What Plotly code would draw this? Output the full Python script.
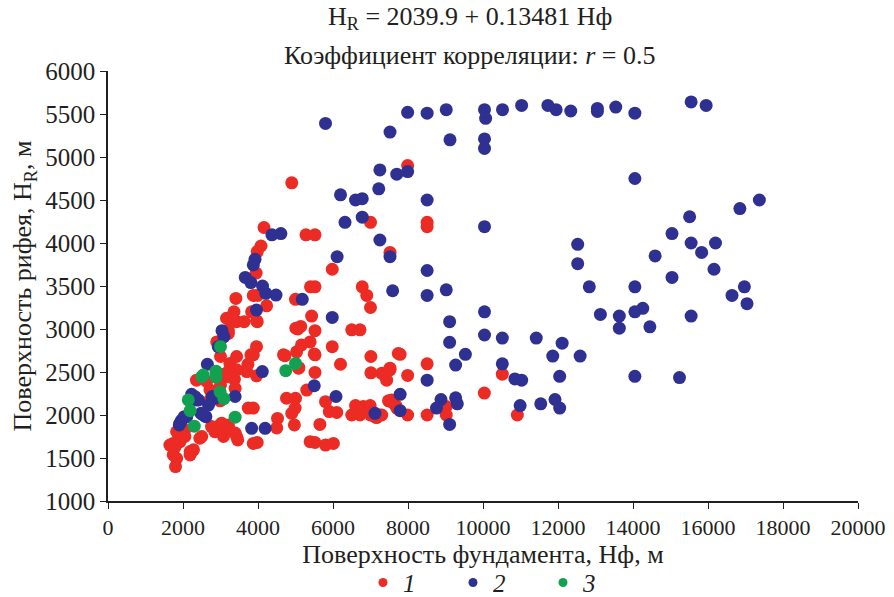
import plotly.graph_objects as go

# Series 1 (red)
s1 = [(7990,4900),(4900,4700),(8510,4240),(8510,4190),(7520,3890),(7000,4240),(5280,4095),(5520,4095),
      (5980,3695),(5400,3490),(5520,3490),(5000,3345),(6780,3490),(6900,3390),(7000,3250),(5430,3150),
      (5060,3000),(5140,3030),(5520,2980),(6500,2990),(6720,2990),
      (4160,4180),(4080,3965),(3980,3900),(3950,3650),(3410,3355),(3875,3390),(3990,3390),(4230,3270),
      (3360,3200),(3830,3200),(3160,3125),(3430,3085),(3630,3085),(3980,3085),(3210,2990),(3080,2910),
      (5010,3010),(3340,3105),(3960,3095),(3210,2950),(2900,2850),(3960,2795),(3000,2680),(3430,2680),
      (3250,2600),(3875,2700),(3730,2590),(3430,2525),(3210,2505),(3080,2475),(3160,2445),(3700,2505),
      (3960,2455),(3370,2415),(3390,2310),(3000,2350),(2630,2390),(2720,2290),(2720,2175),(2990,2165),
      (2360,2405),(3810,2700),
      (2050,1825),(1965,1770),(1875,1710),(1650,1650),(1790,1630),(1920,1690),(1830,1495),(1800,1400),
      (1740,1535),(2190,1535),(2280,1595),(2450,1730),(2760,1865),(2850,1805),(3080,1750),(3030,1805),
      (3210,1885),(3240,1825),(3390,1790),(3460,1710),(3740,2080),(3875,2080),(3875,1670),(3980,1680),
      (4520,1960),(4500,1850),(4760,2195),(5000,2195),(4900,2020),(4990,2080),(4970,1885),(2940,1865),
      (3030,1905),(3430,1750),(2500,1750),(2190,1575),(1740,1670),(2050,1750),(1830,1805),
      (4680,2700),(5080,2545),(5300,2290),(5520,2495),(5520,2700),(5390,2850),(5160,2815),(5030,2735),
      (5980,2795),(5800,2155),(5900,2040),(6100,2030),(5650,1890),(5390,1690),(5520,1680),(5800,1650),
      (6010,1670),(6200,2590),(6500,2000),(6720,2000),(6600,2110),(7010,2680),(7010,2490),(6810,2100),
      (6990,2110),(7080,2000),(7160,1970),(7300,2485),(7430,2405),(7520,2525),(7480,2165),(7680,2105),
      (7740,2715),(4720,2690),(5090,2550),(5500,2710),(7000,2000),(7120,1980),(7250,2000),(7570,2175),
      (7790,2705),(7520,2545),(7990,2460),(8510,2595),(10515,2475),(10035,2255),(7600,2140),
      (7700,2080),(7990,2000),(8510,2000),(9020,2100),(9020,2000),(10915,2000),(7300,2000)]

# Series 2 (blue)
s2 = [(5800,5390),(7520,5290),(7990,5520),(8510,5510),(9020,5550),(10040,5550),(10070,5450),(10520,5550),
      (11030,5600),(11730,5600),(11950,5550),(12340,5535),(13050,5565),(13050,5530),(13540,5580),
      (14050,5510),(15550,5640),(15950,5600),(9120,5200),(10040,5210),(10040,5100),
      (7250,4850),(7700,4800),(7990,4830),(7220,4630),(14050,4750),(8510,4500),(10040,4190),(7250,4035),
      (7520,3840),(12525,3985),(12525,3760),(15040,4110),(14590,3850),(15040,3600),(8510,3680),
      (7590,3445),(8510,3390),(9020,3455),(12835,3490),(14050,3490),(14260,3240),(14050,3200),(10040,3200),
      (17370,4500),(16850,4400),(15510,4305),(15550,4000),(16200,4000),(15830,3890),(16160,3695),
      (16970,3490),(16640,3390),(17040,3295),(15550,3150),(15240,2435),
      (6200,4560),(6600,4500),(6780,4515),(6320,4240),(6780,4300),(6110,3840),(5180,3345),(5980,3135),
      (13130,3170),(13635,3150),(13635,3010),(14450,3025),(9110,3085),(9110,2845),(10040,2930),
      (10515,2895),(11420,2895),(12110,2835),(9530,2705),(9270,2580),(10515,2595),(11860,2685),
      (12590,2685),(8510,2405),(10850,2420),(11030,2405),(12045,2450),(14050,2450),(7790,2240),
      (7790,2050),(8880,2180),(8760,2080),(9270,2200),(9315,2130),(9110,1890),(10990,2110),(11540,2130),
      (11920,2180),(12045,2080),(7120,2020),
      (4370,4095),(4610,4110),(3920,3810),(3875,3745),(3660,3600),(3810,3540),(4120,3500),(4210,3415),
      (4480,3395),(3960,3220),(3040,2980),(3090,2910),(2940,2795),(2650,2590),(4115,2505),(2230,2240),
      (2360,2175),(2780,2215),(2850,2195),(2680,2115),(2480,2020),(2610,1980),(3390,2215),(2035,1980),
      (1965,1940),(1900,1885),(5500,2340),(6080,2215),(3830,1845),(4190,1845),(2320,2213),(2410,2175),
      (2540,2000),(2100,1980),(1920,1905)]

# Series 3 (green)
s3 = [(2500,2445),(2540,2465),(2880,2510),(2880,2440),(2990,2270),(3090,2190),(5000,2600),(4740,2515),
      (2140,2175),(2190,2050),(2300,1870),(3390,1975),(3000,2795)]

x_ticks = list(range(0, 20001, 2000))
y_ticks = list(range(1000, 6001, 500))
series_names = ["1", "2", "3"]
colors = ["#ec2b24", "#2e3192", "#12a150"]

FONT = "Liberation Serif"
INK = "#231f20"
fig = go.Figure()
for name, pts, col in zip(series_names, [s1, s2, s3], colors):
    fig.add_trace(go.Scatter(
        x=[p[0] for p in pts], y=[p[1] for p in pts], mode="markers",
        marker=dict(size=13, color=col, line=dict(width=0)),
        showlegend=False, hoverinfo="skip"))
for name, col in zip(series_names, colors):
    fig.add_trace(go.Scatter(
        x=[None], y=[None], mode="markers", name=f"<i>{name}</i>",
        marker=dict(size=9, color=col)))

fig.update_layout(
    width=894, height=597,
    margin=dict(l=108, r=36, t=71, b=96, autoexpand=False),
    plot_bgcolor="white", paper_bgcolor="white",
    font=dict(family=FONT, color=INK, size=22),
    legend=dict(orientation="h", x=0.52, xanchor="center", y=-0.19, yanchor="middle",
                font=dict(size=25, family=FONT, color=INK), entrywidth=45, itemwidth=30),
)
fig.update_xaxes(range=[0, 20000], tickvals=x_ticks, ticktext=[str(v) for v in x_ticks],
                 showline=True, linecolor=INK, linewidth=1.5, ticks="outside",
                 ticklen=6, tickcolor=INK, showgrid=False, zeroline=False,
                 tickfont=dict(size=22, family=FONT, color=INK),
                 title=dict(text="Поверхность фундамента, Нф, м",
                            font=dict(size=26, family=FONT, color=INK), standoff=0))
fig.update_yaxes(range=[1000, 6000], tickvals=y_ticks, ticktext=[str(v) for v in y_ticks],
                 showline=True, linecolor=INK, linewidth=1.5, ticks="outside",
                 ticklen=6, tickcolor=INK, showgrid=False, zeroline=False,
                 tickfont=dict(size=25, family=FONT, color=INK),
                 title=dict(text="Поверхность рифея, H<sub>R</sub>, м",
                            font=dict(size=26, family=FONT, color=INK), standoff=6))
fig.add_annotation(text="H<sub>R</sub> = 2039.9 + 0.13481 Нф", xref="paper", yref="paper",
                   x=0.483, y=1.0, yshift=53, showarrow=False,
                   font=dict(size=26, family=FONT, color=INK), yanchor="middle")
fig.add_annotation(text="Коэффициент корреляции: <i>r</i> = 0.5", xref="paper", yref="paper",
                   x=0.483, y=1.0, yshift=16, showarrow=False,
                   font=dict(size=26, family=FONT, color=INK), yanchor="middle")
fig.write_html("out.html")
